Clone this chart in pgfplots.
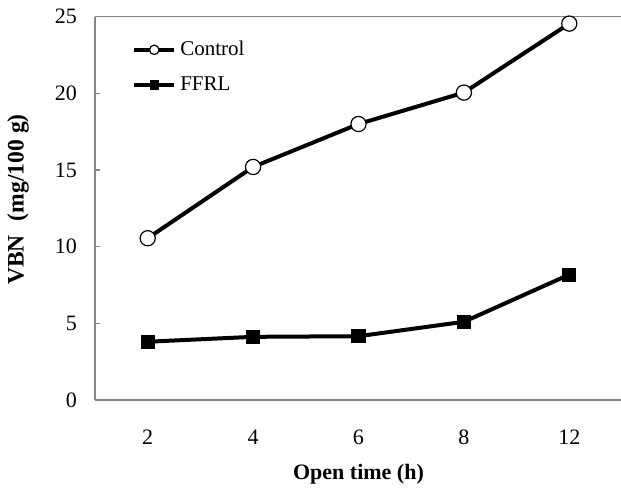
\documentclass[border=0pt]{standalone}
\usepackage{fontspec}
\setmainfont{Liberation Serif}
\usepackage{pgfplots}
\pgfplotsset{compat=1.18}

\definecolor{axgray}{RGB}{134,134,134}

\begin{document}
\begin{tikzpicture}
\useasboundingbox (-47.5pt,-45.5pt) rectangle (263pt,200pt);
\begin{axis}[
    scale only axis,
    width=263.5pt, height=191.65pt,
    xmin=-0.5, xmax=4.5,
    ymin=0, ymax=25,
    axis lines=left,
    axis line style={axgray, line width=0.6pt, -},
    xtick=data,
    xticklabels={2,4,6,8,12},
    x tick style={draw=none},
    ytick={0,5,10,15,20,25},
    y tick style={axgray, line width=0.6pt},
    tick align=inside,
    major tick length=2.5pt,
    /pgf/number format/assume math mode=true,
    tick label style={font=\fontsize{11}{13}\selectfont},
    xticklabel style={yshift=-11.5pt},
    yticklabel style={xshift=-5.5pt},
    xlabel={\textbf{Open time (h)}},
    ylabel={\textbf{VBN\hspace{7pt}(mg/100 g)}},
    xlabel style={font=\fontsize{11}{13}\selectfont, at={(axis description cs:0.5,-0.193)}, anchor=center},
    ylabel style={font=\fontsize{11.8}{13}\selectfont, at={(axis description cs:-0.146,0.523)}, anchor=center},
    legend style={at={(0.07,0.948)}, anchor=north west, draw=none, fill=none,
        font=\fontsize{10.5}{12}\selectfont, row sep=5pt, inner sep=0pt,
        /tikz/every even column/.append style={column sep=0pt}},
    legend cell align=left,
    legend image code/.code={%
        \draw[mark repeat=2,mark phase=2,#1] plot coordinates {(0pt,0pt) (10pt,0pt) (20pt,0pt)};},
    legend image post style={every mark/.append style={scale=0.62}},
]
\addplot[black, line width=2pt, mark=*, mark size=3.8pt,
    mark options={fill=white, draw=black, line width=0.6pt}]
    coordinates {(0,10.55) (1,15.2) (2,18.0) (3,20.05) (4,24.55)};
\addlegendentry{Control}
\addplot[black, line width=2pt, mark=square*, mark size=3.3pt,
    mark options={fill=black, line width=0.4pt}]
    coordinates {(0,3.8) (1,4.12) (2,4.16) (3,5.1) (4,8.18)};
\addlegendentry{FFRL}
\draw[axgray, line width=0.6pt] (rel axis cs:0,1) -- (rel axis cs:1,1);
\end{axis}
\end{tikzpicture}
\end{document}
